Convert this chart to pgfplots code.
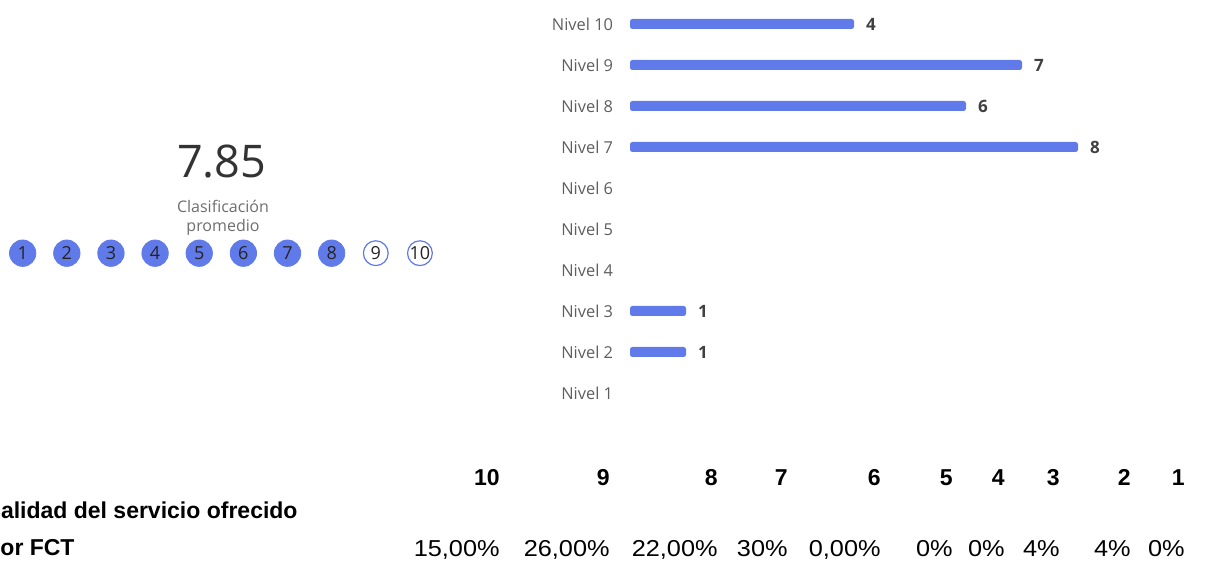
\documentclass[border=0pt]{standalone}
\usepackage{pgfplots}
\pgfplotsset{compat=1.18}
\usepackage{fontspec}
\setmainfont{Open Sans}
\newfontfamily\tabfont{Liberation Sans}
\newfontfamily\pctfont[FakeStretch=1.1]{Liberation Sans}

\definecolor{barblue}{RGB}{96,122,234}
\definecolor{labelgray}{RGB}{96,94,92}
\definecolor{valgray}{RGB}{64,64,64}
\definecolor{bignum}{RGB}{51,51,51}
\definecolor{subgray}{RGB}{110,110,110}
\definecolor{circtext}{RGB}{37,36,35}

\begin{document}
\begin{tikzpicture}
\useasboundingbox (0,0) rectangle (603pt,-282.5pt);

% average rating
\node[anchor=base, inner sep=0pt, text=bignum, font=\fontsize{22.5}{27}\selectfont] at (110.85pt,-88.85pt) {7.85};
\node[anchor=base, inner sep=0pt, text=subgray, font=\fontsize{8}{9}\selectfont] at (111.5pt,-106.3pt) {Clasificación};
\node[anchor=base, inner sep=0pt, text=subgray, font=\fontsize{8}{9}\selectfont] at (111.5pt,-116pt) {promedio};

% rating circles
\begin{axis}[
  at={(0.3pt,-131.6pt)}, anchor=south west,
  scale only axis, width=220.7pt, height=10pt,
  xmin=0.5, xmax=10.5, ymin=-1, ymax=1,
  hide axis, clip=false,
  point meta=explicit symbolic,
  nodes near coords,
]
\addplot[only marks, mark=*, mark size=6.6pt,
  mark options={fill=barblue, draw=barblue},
  every node near coord/.append style={anchor=center, text=circtext, font=\fontsize{9}{10}\selectfont}]
  coordinates {(1,0)[1] (2,0)[2] (3,0)[3] (4,0)[4] (5,0)[5] (6,0)[6] (7,0)[7] (8,0)[8]};
\addplot[only marks, mark=*, mark size=6.2pt,
  mark options={fill=white, draw=barblue, line width=0.6pt},
  every node near coord/.append style={anchor=center, text=circtext, font=\fontsize{9}{10}\selectfont}]
  coordinates {(9,0)[9] (10,0)[10]};
\end{axis}

% bars per level
\begin{axis}[
  at={(315pt,-206.75pt)}, anchor=south west,
  scale only axis, width=238pt, height=205pt,
  xbar, bar width=5pt,
  xmin=0, xmax=8.5, ymin=0.5, ymax=10.5,
  xtick=\empty,
  ytick={1,...,10},
  yticklabels={Nivel 1,Nivel 2,Nivel 3,Nivel 4,Nivel 5,Nivel 6,Nivel 7,Nivel 8,Nivel 9,Nivel 10},
  yticklabel style={font=\fontsize{8.2}{9}\selectfont, text=labelgray, inner sep=0pt, xshift=-4pt},
  axis line style={draw=none},
  major tick style={draw=none},
  clip=false,
  /pgf/number format/assume math mode=true,
  nodes near coords,
  every node near coord/.append style={font=\bfseries\fontsize{8.5}{10}\selectfont, text=valgray, xshift=2.5pt},
]
\addplot[fill=barblue, draw=none, rounded corners=1.2pt]
  coordinates {(4,10) (7,9) (6,8) (8,7) (1,3) (1,2)};
\end{axis}

% table below
\begin{scope}[x=0.5pt, y=-0.5pt, font=\pctfont\fontsize{11.5}{13}\selectfont]
\node[anchor=base west, inner sep=0pt, font=\tabfont\bfseries\fontsize{11.5}{13}\selectfont] at (-16,519) {Calidad del servicio ofrecido};
\node[anchor=base west, inner sep=0pt, font=\tabfont\bfseries\fontsize{11.5}{13}\selectfont] at (-14,556) {por FCT};
\foreach \r/\h/\p in {500/10/15{,}00\%, 610/9/26{,}00\%, 718/8/22{,}00\%, 788/7/30\%, 881/6/0{,}00\%, 953/5/0\%, 1005/4/0\%, 1060/3/4\%, 1131/2/4\%, 1185/1/0\%}{
  \node[anchor=base east, inner sep=0pt, font=\tabfont\bfseries\fontsize{11.5}{13}\selectfont] at (\r,486) {\h};
  \node[anchor=base east, inner sep=0pt] at (\r,557) {\p};
}
\end{scope}
\end{tikzpicture}
\end{document}
